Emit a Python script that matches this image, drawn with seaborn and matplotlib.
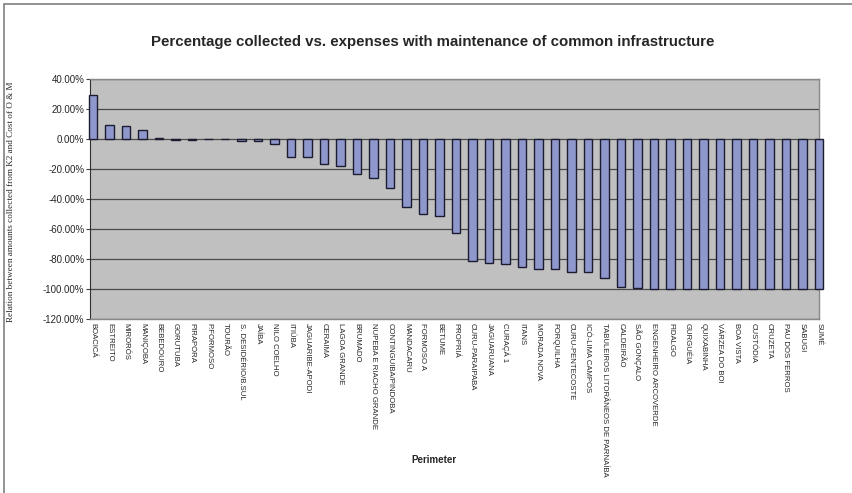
import seaborn as sns
import pandas as pd
from matplotlib import pyplot as plt
import matplotlib.ticker as mtick
from matplotlib.patches import Rectangle

perimeters = ['BOACICÁ', 'ESTREITO', 'MIRORÓS', 'MANIÇOBA', 'BEBEDOURO', 'GORUTUBA',
              'PIRAPORA', 'P.FORMOSO', 'TOURÃO', 'S. DESIDÉRIO/B.SUL', 'JAÍBA',
              'NILO COELHO', 'ITIÚBA', 'JAGUARIBE-APODI', 'CERAIMA', 'LAGOA GRANDE',
              'BRUMADO', 'NUPEBA E RIACHO GRANDE', 'CONTINGUIBA/PINDOBA', 'MANDACARU',
              'FORMOSO A', 'BETUME', 'PROPRIÁ', 'CURU-PARAIPABA', 'JAGUARUANA',
              'CURAÇÁ 1', 'ITANS', 'MORADA NOVA', 'FORQUILHA', 'CURU-PENTECOSTE',
              'ICÓ-LIMA CAMPOS', 'TABULEIROS LITORÂNEOS DE PARNAÍBA', 'CALDEIRÃO',
              'SÃO GONÇALO', 'ENGENHEIRO ARCOVERDE', 'FIDALGO', 'GURGUÉIA', 'QUIXABINHA',
              'VÁRZEA DO BOI', 'BOA VISTA', 'CUSTÓDIA', 'CRUZETA', 'PAU DOS FERROS',
              'SABUGI', 'SUMÉ']
relation = [29.3, 9.1, 8.4, 6.0, 0.9, -0.5,
            -0.5, -0.2, -0.2, -1.0, -1.3,
            -3.5, -11.8, -11.8, -16.4, -18.0,
            -23.3, -26.2, -32.9, -45.6,
            -50.2, -51.3, -62.9, -81.3, -82.9,
            -83.6, -85.6, -86.7, -86.9, -88.9,
            -88.9, -92.9, -98.4,
            -99.3, -100, -100, -100, -100,
            -100, -100, -100, -100, -100,
            -100, -100]
y_ticks = [40, 20, 0, -20, -40, -60, -80, -100, -120]

sns.set_style('white')
plt.rcParams['font.family'] = ['Liberation Sans', 'DejaVu Sans']

data = pd.DataFrame({'Perimeter': perimeters, 'Relation': relation})

fig = plt.figure(figsize=(8.52, 4.93), dpi=100)
ax = fig.add_axes([90 / 852, 1 - 319 / 493, 729 / 852, 240 / 493])
ax.set_facecolor('#c0c0c0')

sns.barplot(data=data, x='Perimeter', y='Relation', color='#8f98cc', saturation=1,
            width=0.5, edgecolor='#1c1c30', linewidth=1.0, ax=ax, zorder=3)
for p in ax.patches:
    p.set_clip_on(False)

ax.set_ylim(-120, 40)
ax.set_xlim(-0.18, 43.94)
ax.set_yticks(y_ticks)
ax.yaxis.set_major_formatter(mtick.FuncFormatter(lambda v, pos: '%.2f%%' % v))
ax.grid(axis='y', color='#4a4a4a', linewidth=0.9, zorder=0)
ax.set_axisbelow(True)
ax.tick_params(axis='y', labelsize=7, length=3, width=0.8, color='#404040', pad=1, left=True)
ax.tick_params(axis='x', length=0, pad=3)
ax.set_xticks(range(len(perimeters)))
ax.set_xticklabels(perimeters, rotation=270, ha='center', va='top', fontsize=5.6)

for side in ['top', 'right', 'bottom']:
    ax.spines[side].set_color('#888888')
    ax.spines[side].set_linewidth(1.0)
ax.spines['left'].set_color('#303030')

ax.set_ylabel('Relation between amounts collected from K2 and Cost of O & M',
              family='Liberation Serif', fontsize=6.6)
ax.yaxis.set_label_coords(-0.103, 0.49)
ax.set_xlabel('Perimeter', fontsize=7, fontweight='bold')
ax.xaxis.set_label_coords(0.472, -0.567)

fig.text(433 / 852, 1 - 42 / 493,
         'Percentage collected vs. expenses with maintenance of common infrastructure',
         ha='center', va='center', fontsize=10.8, fontweight='bold')

fig.patches.append(Rectangle((4 / 852, -0.1), 1.2, 1.1 - 4 / 493, transform=fig.transFigure,
                             fill=False, edgecolor='#808080', linewidth=1.2))

fig.savefig('out.png', dpi=100)
